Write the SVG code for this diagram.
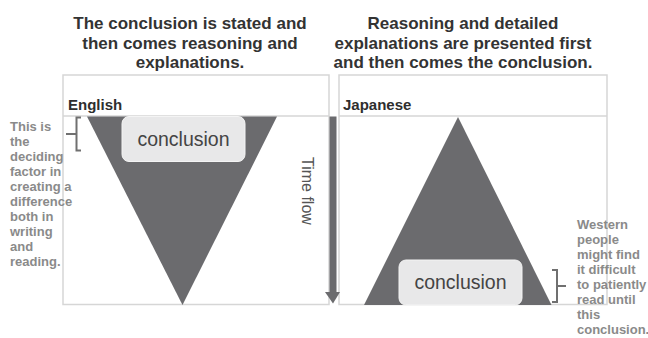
<svg xmlns="http://www.w3.org/2000/svg" width="648" height="338" viewBox="0 0 648 338">
  <style>
    .title { font-family: "Liberation Sans", Arial, sans-serif; font-weight: bold; font-size: 17px; fill: #333333; text-anchor: middle; }
    .lang { font-family: "Liberation Sans", Arial, sans-serif; font-weight: bold; font-size: 15px; fill: #2e2e2e; }
    .note { font-family: "Liberation Sans", Arial, sans-serif; font-weight: bold; font-size: 13px; fill: #8a8a8a; }
    .concl { font-family: "Liberation Sans", Arial, sans-serif; font-size: 19.5px; fill: #444444; text-anchor: middle; }
    .flow { font-family: "Liberation Sans", Arial, sans-serif; font-size: 16px; fill: #555555; }
    .panel { fill: #ffffff; stroke: #d6d6d6; stroke-width: 1.5; }
    .tri { fill: #6b6b6e; }
    .box { fill: #e8e8e9; stroke: #f4f4f4; stroke-width: 1; }
    .brace { fill: none; stroke: #707070; stroke-width: 2; }
  </style>
  <rect width="648" height="338" fill="#ffffff"/>

  <g id="title-left">
    <text class="title" x="190" y="29">The conclusion is stated and</text>
    <text class="title" x="190" y="48.5">then comes reasoning and</text>
    <text class="title" x="190" y="68">explanations.</text>
  </g>
  <g id="title-right">
    <text class="title" x="463" y="29">Reasoning and detailed</text>
    <text class="title" x="463" y="48.5">explanations are presented first</text>
    <text class="title" x="463" y="68">and then comes the conclusion.</text>
  </g>

  <g id="panel-english">
    <rect class="panel" x="63" y="75" width="266" height="229.5"/>
    <line x1="63" y1="116" x2="329" y2="116" stroke="#d6d6d6" stroke-width="1.5"/>
    <text class="lang" x="68" y="110">English</text>
    <polygon class="tri" points="87,116.5 277,116.5 182.5,305"/>
    <rect class="box" x="122" y="116.5" width="123" height="45" rx="7"/>
    <text class="concl" x="183.5" y="145.5">conclusion</text>
  </g>

  <g id="panel-japanese">
    <rect class="panel" x="339" y="75" width="268" height="229.5"/>
    <line x1="339" y1="116" x2="607" y2="116" stroke="#d6d6d6" stroke-width="1.5"/>
    <text class="lang" x="343" y="110">Japanese</text>
    <polygon class="tri" points="458,117 551.5,305 364,305"/>
    <rect class="box" x="399" y="260" width="123" height="45" rx="7"/>
    <text class="concl" x="460.5" y="289">conclusion</text>
  </g>

  <g id="note-left">
    <path class="brace" d="M81,117.5 H76.5 V150.5 H81 M76.5,134 H66"/>
    <text class="note">
      <tspan x="10" y="131">This is</tspan>
      <tspan x="10" y="146">the</tspan>
      <tspan x="10" y="161">deciding</tspan>
      <tspan x="10" y="176">factor in</tspan>
      <tspan x="10" y="191">creating a</tspan>
      <tspan x="10" y="206">difference</tspan>
      <tspan x="10" y="221">both in</tspan>
      <tspan x="10" y="236">writing</tspan>
      <tspan x="10" y="251">and</tspan>
      <tspan x="10" y="266">reading.</tspan>
    </text>
  </g>

  <g id="note-right">
    <path class="brace" d="M552,270 H557 V302 H552 M557,286 H566"/>
    <text class="note">
      <tspan x="577" y="229">Western</tspan>
      <tspan x="577" y="244">people</tspan>
      <tspan x="577" y="259">might find</tspan>
      <tspan x="577" y="274">it difficult</tspan>
      <tspan x="577" y="289">to patiently</tspan>
      <tspan x="577" y="304">read until</tspan>
      <tspan x="577" y="319">this</tspan>
      <tspan x="577" y="334">conclusion.</tspan>
    </text>
  </g>

  <g id="connectors">
    <g id="time-flow">
      <rect x="329.5" y="116.5" width="7" height="176" fill="#6b6b6e"/>
      <polygon points="325,292 340,292 333,303.5" fill="#6b6b6e"/>
      <text class="flow" transform="translate(302,157) rotate(90)">Time flow</text>
    </g>
  </g>
</svg>
